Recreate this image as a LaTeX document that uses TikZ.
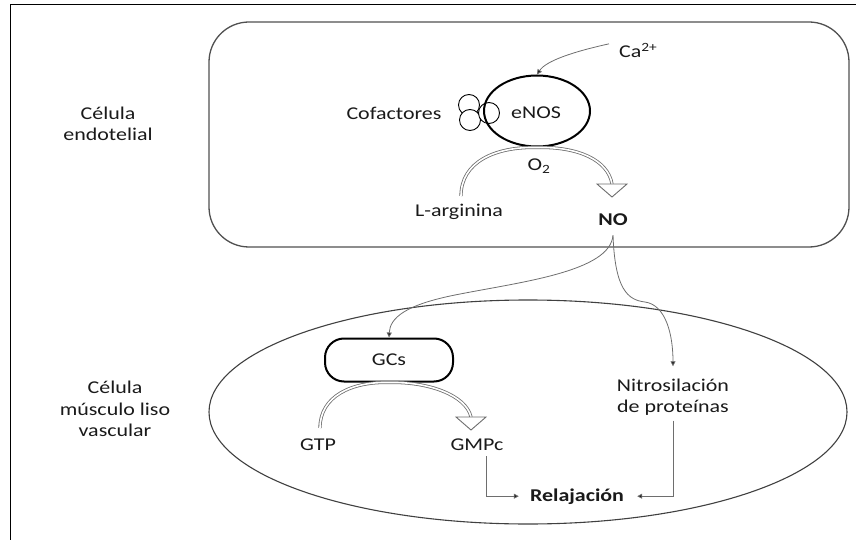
\documentclass[tikz,border=0pt]{standalone}
\usepackage{fontspec}
\setmainfont{Carlito}[FakeStretch=1.22]
\usetikzlibrary{arrows.meta,shapes.geometric,calc}
\definecolor{linegray}{HTML}{6E6E6E}
\definecolor{boxgray}{HTML}{505050}
\definecolor{txt}{HTML}{1A1A1A}
\tikzset{
  lbl/.style={inner sep=0pt, text=txt},
  thinarrow/.style={draw=linegray, line width=0.8pt, -{Triangle[width=5pt,length=5pt,fill=txt]}},
  reac/.style={draw=linegray, line width=0.8pt, double=white, double distance=1.6pt},
  opentri/.style={draw=linegray, line width=0.9pt, fill=white, line join=miter},
  enzyme/.style={draw=black, line width=2pt, inner sep=0pt, text=txt},
}
\newcommand{\opentriangle}[1]{%
  \draw[opentri] ($(#1)+(-15,0)$) -- ($(#1)+(15,0)$) -- ($(#1)+(0,13)$) -- cycle;}
\begin{document}
\begin{tikzpicture}[x=1pt,y=-1pt,font=\fontsize{18}{21.6}\selectfont]
\useasboundingbox (0,0) rectangle (856,540);
% frame
\draw[black, line width=1.4pt] (10.5,4.5) -- (856,4.5);
\draw[black, line width=1.4pt] (10.5,4.5) -- (10.5,540);
% cells
\node[draw=boxgray, line width=1.3pt, rectangle, rounded corners=40pt,
      minimum width=640pt, minimum height=225pt, inner sep=0pt] (ecell) at (529,134.5) {};
\node[draw=boxgray!80!black, line width=1.1pt, ellipse,
      minimum width=638pt, minimum height=224pt, inner sep=0pt] (vcell) at (528,412) {};
% side labels
\node[lbl, align=center] (endo) at (108,124) {Célula\\endotelial};
\node[lbl, align=center] (vsmc) at (115,409) {Célula\\músculo liso\\vascular};
% endothelial cell
\node[lbl, anchor=base] (cof) at (394,120) {Cofactores};
\node[lbl, anchor=base west] (ca) at (619,58) {Ca\textsuperscript{2+}};
\node[draw=black, line width=0.9pt, fill=white, circle, minimum size=21pt, inner sep=0pt] (c1) at (469,105) {};
\node[draw=black, line width=0.9pt, fill=white, circle, minimum size=21pt, inner sep=0pt] (c2) at (470,120) {};
\node[draw=black, line width=0.9pt, fill=white, circle, minimum size=21pt, inner sep=0pt] (c3) at (489,113) {};
\node[enzyme, ellipse, minimum width=106pt, minimum height=71pt] (enos) at (537,111) {};
\node[lbl, anchor=base] (enostxt) at (536,119) {eNOS};
\node[lbl, anchor=base] (o2) at (539,171) {O\textsubscript{2}};
\node[lbl, anchor=base] (larg) at (459,216) {L-arginina};
\node[lbl, anchor=base, font=\fontsize{18}{21.6}\selectfont\bfseries] (no) at (613,225) {NO};
\coordinate (argtop) at (461,196);
\coordinate (notip) at (612,184);
\draw[reac] (argtop) .. controls (461,162) and (495,146.5) .. (enos.south)
            .. controls (578,146.5) and (608,160) .. (notip);
\opentriangle{notip}
\draw[thinarrow] ([xshift=-10pt,yshift=7pt]ca.west) .. controls (572,52) and (546,61) .. (enos.north);
% smooth muscle cell
\node[enzyme, rectangle, rounded corners=19pt, minimum width=128pt, minimum height=43pt] (gcs) at (389,360) {GCs};
\node[lbl, anchor=base] (gtp) at (318,450) {GTP};
\node[lbl, anchor=base] (gmpc) at (477,450) {GMPc};
\node[lbl, align=center] (nitro) at (673,397) {Nitrosilación\\de proteínas};
\node[lbl, anchor=base, font=\fontsize{18}{21.6}\selectfont\bfseries] (rel) at (577,501) {Relajación};
\coordinate (gtptop) at (320,428);
\coordinate (gmtip) at (471,417);
\draw[reac] (gtptop) .. controls (320,396) and (352,381.5) .. (gcs.south)
            .. controls (428,381.5) and (466,395) .. (gmtip);
\opentriangle{gmtip}
% NO branches
\draw[thinarrow] ([yshift=-10pt]no.south) .. controls (610,272) and (520,282) .. (455,295)
                 .. controls (405,305) and (390,318) .. (gcs.north);
\draw[thinarrow] ([yshift=-10pt]no.south) .. controls (615,290) and (628,300) .. (645,302)
                 .. controls (666,305) and (673,335) .. ([yshift=12pt]nitro.north);
% to relaxation
\draw[thinarrow] ([xshift=9pt,yshift=-6pt]gmpc.south) |- ([xshift=-11pt]rel.west);
\draw[thinarrow] ([yshift=-5pt]nitro.south) |- ([xshift=13pt]rel.east);
\end{tikzpicture}
\end{document}
